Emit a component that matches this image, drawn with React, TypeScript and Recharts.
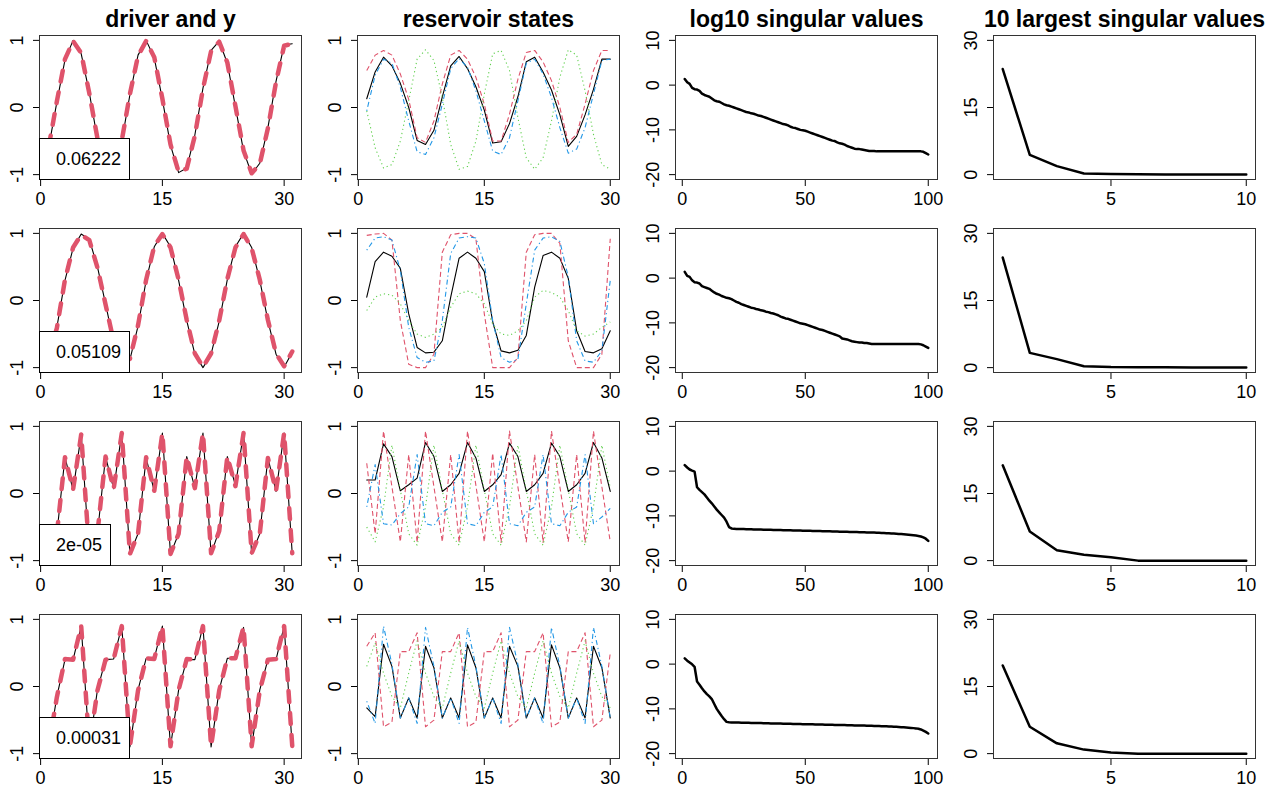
import React from 'react';
import { LineChart, Line, XAxis, YAxis } from 'recharts';

const FONT = '"Liberation Sans", Arial, Helvetica, sans-serif';
const BLACK = '#000000';
const RED = '#DF536B';
const GREEN = '#61D04F';
const BLUE = '#2297E6';

// time indices
const time31 = Array.from({ length: 31 }, (_, i) => i + 1);
const time30 = Array.from({ length: 30 }, (_, i) => i + 1);
const time100 = Array.from({ length: 100 }, (_, i) => i + 1);
const time10 = Array.from({ length: 10 }, (_, i) => i + 1);

// column 1: driver (black) and y (red dashed)
const driver1 = [-0.59, 0.08, 0.71, 1.0, 0.8, 0.22, -0.47, -0.93, -0.94, -0.5, 0.19, 0.78, 1.0, 0.74, 0.12, -0.56, -0.97, -0.9, -0.41, 0.29, 0.85, 0.99, 0.66, 0.01, -0.65, -0.99, -0.83, -0.3, 0.39, 0.93, 0.95];
const y1 = [-0.58, 0.09, 0.72, 0.99, 0.81, 0.21, -0.46, -0.92, -0.95, -0.49, 0.2, 0.77, 0.99, 0.75, 0.13, -0.55, -0.96, -0.91, -0.42, 0.28, 0.84, 0.98, 0.67, 0.02, -0.64, -0.98, -0.84, -0.31, 0.38, 0.92, 0.95];
const driver2 = [-0.85, -0.4, 0.3, 0.78, 0.99, 0.91, 0.5, -0.05, -0.62, -0.95, -0.88, -0.38, 0.3, 0.8, 1.0, 0.8, 0.3, -0.3, -0.8, -1.0, -0.8, -0.31, 0.31, 0.8, 1.0, 0.79, 0.3, -0.3, -0.8, -0.99, -0.77];
const y2 = [-0.84, -0.41, 0.31, 0.79, 0.98, 0.9, 0.49, -0.06, -0.61, -0.94, -0.87, -0.37, 0.31, 0.81, 0.99, 0.79, 0.31, -0.29, -0.79, -0.99, -0.79, -0.3, 0.32, 0.79, 0.99, 0.78, 0.31, -0.29, -0.79, -0.98, -0.76];
const driver3 = [-0.9, -0.6, 0.54, 0.05, 0.88, -0.9, -0.6, 0.55, 0.07, 0.9, -0.9, -0.6, 0.53, 0.03, 0.9, -0.9, -0.6, 0.55, 0.08, 0.9, -0.9, -0.55, 0.55, 0.12, 0.9, -0.9, -0.6, 0.53, 0.03, 0.9, -0.9];
const y3 = [-0.89, -0.6, 0.54, 0.06, 0.88, -0.89, -0.59, 0.55, 0.07, 0.9, -0.9, -0.6, 0.54, 0.04, 0.9, -0.9, -0.6, 0.55, 0.08, 0.9, -0.89, -0.56, 0.55, 0.11, 0.9, -0.89, -0.6, 0.53, 0.04, 0.9, -0.89];
const driver4 = [-0.9, -0.15, 0.4, 0.4, 0.9, -0.9, -0.05, 0.4, 0.41, 0.9, -0.9, -0.05, 0.42, 0.42, 0.9, -0.9, -0.05, 0.4, 0.4, 0.9, -0.9, -0.05, 0.42, 0.42, 0.88, -0.9, -0.05, 0.4, 0.4, 0.9, -0.9];
const y4 = [-0.89, -0.16, 0.41, 0.4, 0.9, -0.89, -0.06, 0.4, 0.41, 0.9, -0.89, -0.06, 0.42, 0.41, 0.9, -0.89, -0.05, 0.41, 0.4, 0.9, -0.89, -0.06, 0.42, 0.42, 0.89, -0.89, -0.06, 0.4, 0.41, 0.9, -0.89];
const mseLabels = ['0.06222', '0.05109', '2e-05', '0.00031'];

// column 2: reservoir states (4 shown units)
const res1Black = [0.13, 0.53, 0.75, 0.62, 0.36, 0.0, -0.49, -0.55, -0.34, 0.16, 0.62, 0.76, 0.58, 0.31, -0.04, -0.53, -0.51, -0.24, 0.16, 0.68, 0.75, 0.53, 0.26, -0.11, -0.58, -0.43, -0.11, 0.27, 0.72, 0.72];
const res1Red = [0.55, 0.78, 0.85, 0.78, 0.5, 0.12, -0.45, -0.52, -0.2, 0.35, 0.78, 0.85, 0.72, 0.45, 0.05, -0.5, -0.5, -0.1, 0.42, 0.82, 0.85, 0.68, 0.4, 0.0, -0.52, -0.4, 0.05, 0.55, 0.85, 0.85];
const res1Green = [-0.05, -0.6, -0.9, -0.85, -0.5, 0.1, 0.72, 0.86, 0.7, 0.15, -0.55, -0.92, -0.88, -0.5, 0.2, 0.8, 0.85, 0.55, -0.15, -0.75, -0.92, -0.75, -0.2, 0.45, 0.86, 0.78, 0.25, -0.4, -0.85, -0.92];
const res1Blue = [-0.05, 0.48, 0.72, 0.66, 0.3, -0.2, -0.66, -0.7, -0.45, 0.05, 0.58, 0.73, 0.6, 0.25, -0.2, -0.65, -0.7, -0.45, 0.1, 0.66, 0.72, 0.5, 0.15, -0.3, -0.68, -0.62, -0.3, 0.2, 0.7, 0.72];

const res2Black = [0.05, 0.58, 0.72, 0.66, 0.48, -0.2, -0.7, -0.78, -0.77, -0.6, 0.05, 0.63, 0.72, 0.63, 0.43, -0.32, -0.75, -0.78, -0.74, -0.52, 0.2, 0.67, 0.72, 0.63, 0.33, -0.45, -0.76, -0.78, -0.72, -0.45];
const res2Red = [0.97, 0.99, 1.0, 0.9, -0.3, -0.95, -1.0, -1.0, -0.8, 0.72, 0.98, 1.0, 1.0, 0.92, -0.2, -1.0, -1.0, -1.0, -0.85, 0.72, 0.98, 1.0, 1.0, 0.85, -0.6, -1.0, -1.0, -1.0, -0.8, 0.92];
const res2Green = [-0.15, 0.05, 0.1, 0.08, -0.05, -0.3, -0.5, -0.55, -0.5, -0.4, -0.1, 0.1, 0.14, 0.1, -0.05, -0.35, -0.5, -0.52, -0.45, -0.3, 0.05, 0.15, 0.12, 0.05, -0.15, -0.45, -0.53, -0.5, -0.4, -0.32];
const res2Blue = [0.75, 0.93, 0.95, 0.9, 0.45, -0.4, -0.85, -0.92, -0.9, -0.3, 0.7, 0.93, 0.95, 0.93, 0.55, -0.3, -0.85, -0.92, -0.88, -0.05, 0.75, 0.93, 0.95, 0.88, 0.35, -0.6, -0.9, -0.92, -0.75, 0.3];

const res3Black = [0.2, 0.2, 0.74, 0.55, 0.04, 0.13, 0.23, 0.76, 0.55, 0.03, 0.13, 0.3, 0.76, 0.53, 0.03, 0.13, 0.28, 0.75, 0.55, 0.03, 0.13, 0.3, 0.75, 0.55, 0.03, 0.13, 0.3, 0.76, 0.53, 0.03];
const res3Red = [0.45, -0.6, 0.93, 0.1, -0.72, 0.58, -0.73, 0.93, 0.1, -0.72, 0.58, -0.73, 0.93, 0.12, -0.72, 0.6, -0.73, 0.93, 0.1, -0.72, 0.58, -0.73, 0.93, 0.1, -0.72, 0.58, -0.73, 0.93, 0.1, -0.72];
const res3Green = [-0.5, -0.72, -0.2, 0.72, 0.05, -0.6, -0.77, -0.2, 0.72, 0.05, -0.6, -0.77, -0.2, 0.72, 0.05, -0.6, -0.77, -0.2, 0.72, 0.05, -0.6, -0.77, -0.2, 0.72, 0.05, -0.6, -0.77, -0.2, 0.72, 0.08];
const res3Blue = [-0.2, 0.43, -0.45, -0.47, -0.3, -0.2, 0.58, -0.45, -0.48, -0.28, -0.2, 0.58, -0.45, -0.48, -0.28, -0.2, 0.58, -0.45, -0.48, -0.28, -0.2, 0.58, -0.45, -0.48, -0.28, -0.2, 0.58, -0.45, -0.35, -0.22];

const res4Black = [-0.32, -0.45, 0.63, 0.3, -0.47, -0.17, -0.47, 0.6, 0.28, -0.47, -0.17, -0.47, 0.62, 0.28, -0.47, -0.17, -0.47, 0.6, 0.3, -0.47, -0.17, -0.47, 0.62, 0.28, -0.47, -0.17, -0.47, 0.6, 0.28, -0.47];
const res4Red = [0.6, 0.8, -0.6, -0.53, 0.52, 0.52, 0.8, -0.6, -0.5, 0.52, 0.52, 0.8, -0.6, -0.53, 0.52, 0.52, 0.8, -0.6, -0.5, 0.52, 0.52, 0.8, -0.6, -0.53, 0.52, 0.52, 0.8, -0.6, -0.5, 0.5];
const res4Green = [0.3, 0.65, 0.2, -0.15, -0.32, 0.2, 0.68, 0.2, -0.15, -0.32, 0.2, 0.68, 0.2, -0.15, -0.32, 0.2, 0.68, 0.2, -0.15, -0.32, 0.2, 0.68, 0.2, -0.15, -0.32, 0.2, 0.68, 0.2, -0.15, -0.32];
const res4Blue = [-0.22, -0.55, 0.9, 0.33, -0.47, -0.17, -0.55, 0.88, 0.3, -0.47, -0.17, -0.55, 0.88, 0.3, -0.47, -0.17, -0.55, 0.88, 0.33, -0.47, -0.17, -0.55, 0.88, 0.3, -0.47, -0.17, -0.55, 0.88, 0.3, -0.47];

// column 3: log10 singular values
const logSv1 = [
  1.37, 0.64, 0.28, -0.6, -0.9, -1.0, -1.3, -1.9, -2.2, -2.4,
  -2.6, -3.0, -3.4, -3.6, -3.7, -4.0, -4.3, -4.5, -4.6, -4.8,
  -5.0, -5.2, -5.4, -5.6, -5.8, -6.0, -6.1, -6.3, -6.4, -6.6,
  -6.8, -6.9, -7.1, -7.3, -7.5, -7.7, -7.9, -8.1, -8.3, -8.5,
  -8.7, -8.8, -9.0, -9.3, -9.5, -9.6, -9.8, -10.0, -10.1, -10.2,
  -10.4, -10.6, -10.8, -11.0, -11.2, -11.4, -11.6, -11.8, -12.0, -12.2,
  -12.4, -12.5, -12.8, -13.0, -13.1, -13.3, -13.6, -13.8, -14.0, -14.2,
  -14.3, -14.3, -14.4, -14.5, -14.6, -14.7, -14.7, -14.7, -14.8, -14.8,
  -14.8, -14.8, -14.8, -14.8, -14.8, -14.8, -14.8, -14.8, -14.8, -14.8,
  -14.8, -14.8, -14.8, -14.8, -14.8, -14.8, -14.8, -14.9, -15.2, -15.5,
];
const logSv2 = [
  1.39, 0.52, 0.28, -0.5, -0.9, -1.0, -1.2, -1.8, -2.0, -2.2,
  -2.4, -2.8, -3.2, -3.5, -3.7, -4.0, -4.2, -4.4, -4.5, -4.7,
  -5.0, -5.3, -5.5, -5.8, -6.0, -6.2, -6.4, -6.6, -6.7, -6.9,
  -7.0, -7.2, -7.3, -7.5, -7.6, -7.8, -7.9, -8.1, -8.3, -8.6,
  -8.8, -9.0, -9.1, -9.3, -9.5, -9.7, -9.9, -10.1, -10.2, -10.3,
  -10.5, -10.7, -10.9, -11.1, -11.3, -11.5, -11.6, -11.8, -12.0, -12.2,
  -12.4, -12.6, -12.8, -13.0, -13.5, -13.6, -13.7, -13.9, -14.1, -14.2,
  -14.3, -14.4, -14.4, -14.5, -14.5, -14.6, -14.7, -14.7, -14.7, -14.7,
  -14.7, -14.7, -14.7, -14.7, -14.7, -14.7, -14.7, -14.7, -14.7, -14.7,
  -14.7, -14.7, -14.7, -14.7, -14.7, -14.7, -14.8, -15.0, -15.3, -15.6,
];
const logSv3 = [
  1.33, 0.81, 0.36, 0.11, -0.12, -3.6, -4.2, -4.7, -5.2, -5.9,
  -6.6, -7.2, -7.9, -8.6, -9.2, -9.8, -10.4, -11.3, -12.5, -12.8,
  -12.9, -12.92, -12.93, -12.95, -12.96, -12.97, -12.99, -13.0, -13.02, -13.03,
  -13.05, -13.06, -13.08, -13.09, -13.1, -13.12, -13.13, -13.15, -13.16, -13.18,
  -13.19, -13.2, -13.22, -13.23, -13.25, -13.26, -13.27, -13.29, -13.3, -13.31,
  -13.33, -13.34, -13.36, -13.37, -13.39, -13.4, -13.41, -13.43, -13.44, -13.46,
  -13.47, -13.49, -13.5, -13.52, -13.53, -13.55, -13.56, -13.58, -13.59, -13.61,
  -13.62, -13.64, -13.65, -13.67, -13.69, -13.7, -13.72, -13.74, -13.76, -13.78,
  -13.8, -13.83, -13.86, -13.89, -13.92, -13.95, -13.99, -14.03, -14.07, -14.11,
  -14.16, -14.21, -14.27, -14.33, -14.4, -14.48, -14.6, -14.8, -15.1, -15.6,
];
const logSv4 = [
  1.29, 0.78, 0.36, -0.05, -0.6, -3.9, -4.6, -5.4, -6.1, -6.7,
  -7.2, -7.8, -8.9, -10.0, -10.8, -11.6, -12.3, -12.9, -13.0, -13.02,
  -13.03, -13.05, -13.06, -13.08, -13.09, -13.1, -13.12, -13.13, -13.14, -13.16,
  -13.17, -13.18, -13.2, -13.21, -13.22, -13.24, -13.25, -13.26, -13.28, -13.29,
  -13.3, -13.32, -13.33, -13.34, -13.36, -13.37, -13.38, -13.39, -13.41, -13.42,
  -13.43, -13.45, -13.46, -13.47, -13.49, -13.5, -13.51, -13.53, -13.54, -13.55,
  -13.57, -13.58, -13.59, -13.61, -13.62, -13.63, -13.65, -13.66, -13.67, -13.69,
  -13.7, -13.71, -13.73, -13.74, -13.76, -13.77, -13.79, -13.8, -13.82, -13.84,
  -13.86, -13.88, -13.9, -13.93, -13.96, -13.99, -14.02, -14.05, -14.08, -14.12,
  -14.16, -14.2, -14.25, -14.3, -14.36, -14.45, -14.6, -14.85, -15.15, -15.5,
];

// column 4: 10 largest singular values
const topSv1 = [23.6, 4.4, 1.9, 0.25, 0.13, 0.1, 0.05, 0.01, 0.006, 0.004];
const topSv2 = [24.6, 3.3, 1.9, 0.32, 0.13, 0.1, 0.06, 0.016, 0.01, 0.006];
const topSv3 = [21.3, 6.5, 2.3, 1.3, 0.75, 0.0, 0.0, 0.0, 0.0, 0.0];
const topSv4 = [19.7, 6.0, 2.3, 0.9, 0.25, 0.0, 0.0, 0.0, 0.0, 0.0];

const titles = ['driver and y', 'reservoir states', 'log10 singular values', '10 largest singular values'];

// layout of plot boxes (px)
const BOX_W = 263;
const BOX_H = 145;
const colLeft = [39, 357, 675, 993];
const rowTop = [35, 228, 421, 614];
const PAD_L = 40;
const PAD_T = 15;
const PAD_R = 20;
const PAD_B = 35;

type SeriesDef = { key: string; values: number[]; color: string; width: number; dash?: string; cap?: 'round' | 'butt' };

const buildRows = (xs: number[], series: SeriesDef[]) =>
  xs.map((x, i) => {
    const row: Record<string, number> = { x };
    series.forEach((s) => {
      row[s.key] = s.values[i];
    });
    return row;
  });

const XTick = (props: any) => {
  const { x, y, payload } = props;
  return (
    <text x={x} y={y + 17} textAnchor="middle" fontSize={18} fontFamily={FONT} fill="#000">
      {payload.value}
    </text>
  );
};

const YTick = (props: any) => {
  const { x, y, payload } = props;
  const bx = x - 8;
  return (
    <text x={bx} y={y} transform={`rotate(-90 ${bx} ${y})`} textAnchor="middle" fontSize={18} fontFamily={FONT} fill="#000">
      {payload.value}
    </text>
  );
};

interface PanelProps {
  col: number;
  row: number;
  xs: number[];
  series: SeriesDef[];
  xDomain: [number, number];
  yDomain: [number, number];
  xTicks: number[];
  yTicks: number[];
  legend?: string;
}

const Panel: React.FC<PanelProps> = ({ col, row, xs, series, xDomain, yDomain, xTicks, yTicks, legend }) => {
  const data = buildRows(xs, series);
  const left = colLeft[col];
  const top = rowTop[row];
  const w = BOX_W + PAD_L + PAD_R;
  const h = BOX_H + PAD_T + PAD_B;
  return (
    <div style={{ position: 'absolute', left: left - PAD_L, top: top - PAD_T, width: w, height: h }}>
      <LineChart width={w} height={h} data={data} margin={{ top: PAD_T, right: PAD_R, bottom: 0, left: 0 }}>
        <XAxis
          dataKey="x"
          type="number"
          domain={xDomain}
          ticks={xTicks}
          allowDataOverflow
          interval={0}
          axisLine={false}
          tickLine={{ stroke: '#000' }}
          tickSize={6}
          height={PAD_B}
          tick={XTick}
        />
        <YAxis
          type="number"
          domain={yDomain}
          ticks={yTicks}
          allowDataOverflow
          interval={0}
          axisLine={false}
          tickLine={{ stroke: '#000' }}
          tickSize={6}
          width={PAD_L}
          tick={YTick}
        />
        {series.map((s) => (
          <Line
            key={s.key}
            dataKey={s.key}
            type="linear"
            stroke={s.color}
            strokeWidth={s.width}
            strokeDasharray={s.dash}
            strokeLinecap={s.cap ?? 'round'}
            strokeLinejoin="round"
            dot={false}
            activeDot={false}
            isAnimationActive={false}
          />
        ))}
      </LineChart>
      <div
        style={{
          position: 'absolute',
          left: PAD_L,
          top: PAD_T,
          width: BOX_W,
          height: BOX_H,
          border: '1px solid #333',
          boxSizing: 'border-box',
          pointerEvents: 'none',
        }}
      />
      {legend && (
        <div
          style={{
            position: 'absolute',
            left: PAD_L,
            top: PAD_T + BOX_H - 42,
            height: 42,
            boxSizing: 'border-box',
            border: '1px solid #000',
            background: '#fff',
            padding: '0 8px 0 16px',
            lineHeight: '41px',
            fontSize: 18,
            fontFamily: FONT,
            whiteSpace: 'nowrap',
            color: '#000',
          }}
        >
          {legend}
        </div>
      )}
    </div>
  );
};

const drivers = [driver1, driver2, driver3, driver4];
const ys = [y1, y2, y3, y4];
const reservoir = [
  [res1Black, res1Red, res1Green, res1Blue],
  [res2Black, res2Red, res2Green, res2Blue],
  [res3Black, res3Red, res3Green, res3Blue],
  [res4Black, res4Red, res4Green, res4Blue],
];
const logSvs = [logSv1, logSv2, logSv3, logSv4];
const topSvs = [topSv1, topSv2, topSv3, topSv4];

const App: React.FC = () => {
  return (
    <div style={{ position: 'absolute', left: 0, top: 0, width: 1276, height: 789, background: '#fff', fontFamily: FONT }}>
      {[0, 1, 2, 3].map((r) => (
        <React.Fragment key={r}>
          <Panel
            col={0}
            row={r}
            xs={time31}
            series={[
              { key: 'driver', values: drivers[r], color: BLACK, width: 1.1 },
              { key: 'y', values: ys[r], color: RED, width: 4.5, dash: '11 11' },
            ]}
            xDomain={[-0.2, 32.2]}
            yDomain={[-1.08, 1.08]}
            xTicks={[0, 15, 30]}
            yTicks={[-1, 0, 1]}
            legend={mseLabels[r]}
          />
          <Panel
            col={1}
            row={r}
            xs={time30}
            series={[
              { key: 's1', values: reservoir[r][0], color: BLACK, width: 1.1 },
              { key: 's2', values: reservoir[r][1], color: RED, width: 1.1, dash: '5 3', cap: 'butt' },
              { key: 's3', values: reservoir[r][2], color: GREEN, width: 1.1, dash: '1.2 3', cap: 'butt' },
              { key: 's4', values: reservoir[r][3], color: BLUE, width: 1.1, dash: '1.2 3 5 3', cap: 'butt' },
            ]}
            xDomain={[-0.16, 31.16]}
            yDomain={[-1.08, 1.08]}
            xTicks={[0, 15, 30]}
            yTicks={[-1, 0, 1]}
          />
          <Panel
            col={2}
            row={r}
            xs={time100}
            series={[{ key: 'logsv', values: logSvs[r], color: BLACK, width: 2.5 }]}
            xDomain={[-2.96, 103.96]}
            yDomain={[-21.2, 11.2]}
            xTicks={[0, 50, 100]}
            yTicks={[-20, -10, 0, 10]}
          />
          <Panel
            col={3}
            row={r}
            xs={time10}
            series={[{ key: 'sv', values: topSvs[r], color: BLACK, width: 2.5 }]}
            xDomain={[0.64, 10.36]}
            yDomain={[-1.2, 31.2]}
            xTicks={[5, 10]}
            yTicks={[0, 15, 30]}
          />
        </React.Fragment>
      ))}
      {titles.map((t, c) => (
        <div
          key={t}
          style={{
            position: 'absolute',
            left: colLeft[c] - 30,
            width: BOX_W + 60,
            top: 8,
            textAlign: 'center',
            fontSize: 23,
            fontWeight: 'bold',
            lineHeight: '22px',
            whiteSpace: 'nowrap',
            color: '#000',
          }}
        >
          {t}
        </div>
      ))}
    </div>
  );
};

export default App;
